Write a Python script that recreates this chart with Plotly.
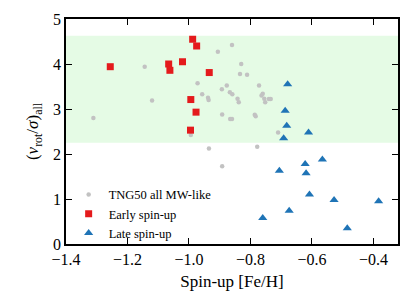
import plotly.graph_objects as go

# TNG50 all MW-like (gray)
all_x = [-1.311, -1.144, -1.120, -0.994, -0.972, -0.957, -0.938, -0.936, -0.935,
         -0.860, -0.906, -0.830, -0.834, -0.811, -0.877, -0.893, -0.867, -0.859,
         -0.842, -0.838, -0.772, -0.760, -0.764, -0.755, -0.752, -0.740, -0.734,
         -0.892, -0.866, -0.860, -0.786, -0.783, -0.710, -0.778, -0.892]
all_y = [2.80, 3.94, 3.19, 2.42, 3.57, 3.33, 3.25, 3.20, 2.12,
         4.42, 4.27, 4.00, 3.78, 3.76, 3.52, 3.44, 3.37, 3.33,
         3.23, 3.15, 3.52, 3.34, 3.30, 3.23, 3.15, 3.22, 3.22,
         2.88, 2.78, 2.78, 2.87, 2.84, 2.48, 2.16, 1.73]

# Early spin-up (red squares)
early_x = [-1.256, -1.066, -1.062, -1.021, -0.988, -0.975, -0.994, -0.977, -0.995, -0.934]
early_y = [3.94, 4.00, 3.86, 4.05, 4.55, 4.40, 3.21, 2.93, 2.53, 3.81]

# Late spin-up (blue triangles)
late_x = [-0.679, -0.687, -0.682, -0.611, -0.692, -0.566, -0.622, -0.619, -0.706,
          -0.608, -0.528, -0.383, -0.674, -0.760, -0.485]
late_y = [3.55, 2.96, 2.63, 2.48, 2.35, 1.88, 1.78, 1.57, 1.63,
          1.10, 0.98, 0.95, 0.74, 0.58, 0.35]

band_lo, band_hi = 2.25, 4.63
x_ticks = [-1.4, -1.2, -1.0, -0.8, -0.6, -0.4]
y_ticks = [0, 1, 2, 3, 4, 5]

FONT = "Liberation Serif"

fig = go.Figure()
fig.add_trace(go.Scatter(x=all_x, y=all_y, mode="markers", name="TNG50 all MW-like",
                         marker=dict(symbol="circle", size=4.5, color="#c2c2c2")))
fig.add_trace(go.Scatter(x=early_x, y=early_y, mode="markers", name="Early spin-up",
                         marker=dict(symbol="square", size=7, color="#e41a1c")))
fig.add_trace(go.Scatter(x=late_x, y=late_y, mode="markers", name="Late spin-up",
                         marker=dict(symbol="triangle-up", size=8, color="#1f74b6")))

fig.add_shape(type="rect", xref="paper", x0=0, x1=1, yref="y", y0=band_lo, y1=band_hi,
              fillcolor="#e5fbe5", line=dict(width=0), layer="below")

axis_common = dict(showline=True, linecolor="black", linewidth=1.5, mirror="ticks",
                   ticks="inside", ticklen=6, tickwidth=1.2, tickcolor="black",
                   showgrid=False, zeroline=False,
                   tickfont=dict(family=FONT, size=16, color="black"))

fig.update_xaxes(range=[-1.4, -0.32], tickvals=x_ticks,
                 ticktext=[f"\u2212{abs(v):.1f}" for v in x_ticks],
                 title=dict(text="Spin-up [Fe/H]", font=dict(family=FONT, size=17, color="black"),
                            standoff=8),
                 **axis_common)
fig.update_yaxes(range=[0, 5], tickvals=y_ticks,
                 title=dict(text="(<i>v</i><sub>rot</sub>/<i>σ</i>)<sub>all</sub>",
                            font=dict(family=FONT, size=17, color="black"), standoff=10),
                 **axis_common)

fig.update_layout(
    width=415, height=303,
    margin=dict(l=66, r=17, t=11, b=59),
    plot_bgcolor="white", paper_bgcolor="white",
    showlegend=True,
    legend=dict(x=0.008, y=0.285, xanchor="left", yanchor="top",
                bgcolor="rgba(0,0,0,0)", borderwidth=0,
                font=dict(family=FONT, size=12.5, color="black"),
                tracegroupgap=0, itemsizing="trace"),
)

fig.write_html("out.html", config={"displayModeBar": False},
               post_script="document.body.style.margin='0';document.body.style.padding='0';")
